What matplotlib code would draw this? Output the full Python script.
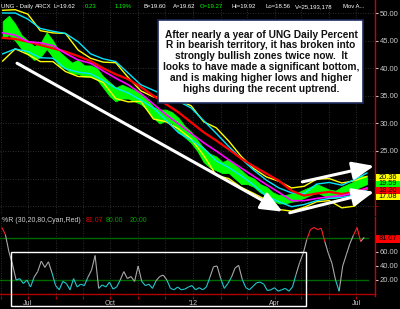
import matplotlib
matplotlib.use('Agg')
import matplotlib.pyplot as plt
import matplotlib.dates as mdates
from matplotlib.collections import LineCollection
from matplotlib.patches import Rectangle
from matplotlib.ticker import FormatStrFormatter, FuncFormatter
import numpy as np
import pandas as pd

plt.rcParams['font.family'] = ['Liberation Sans', 'DejaVu Sans']

# ---------------- data ----------------
week_start = '2011-06-03'          # weekly samples of price range
price_low = [45.5, 46, 45, 43.5, 42.5, 41.5, 42, 43.5, 42, 40.5, 40, 39, 39, 38.5, 38.5,
             38, 36.5, 35, 34, 34.5, 34.5, 34, 33.5, 32.5, 31, 30, 30.5, 30, 28.5, 27.5,
             26.5, 25, 23, 22, 21.5, 21, 21, 20, 19, 19, 18.5, 17.5, 17, 16, 15.5, 15.5,
             15.8, 16, 16.5, 17, 17.5, 17, 16.5, 16.5, 17, 17.5, 18, 18.5, 19]
price_high = [48.5, 49.5, 48, 46, 45, 44, 44.5, 46.5, 45, 43, 42, 41, 41.5, 40.5, 40.5,
              40, 38.5, 37.5, 36.5, 37, 36.5, 36, 35.5, 34.5, 33, 32.5, 32.5, 32, 31, 29.5,
              28.5, 27, 25.5, 24.5, 24, 23, 23.5, 22.5, 21.5, 20.5, 20, 19, 18.5, 17.5, 17,
              17, 17.3, 17.5, 18, 18.5, 19, 18.5, 18, 17.8, 18.5, 19, 19.5, 20.5, 20.3]

# bi-weekly samples of the overlays
yellow_upper = [50.5, 50.6, 49.8, 46.8, 46.4, 46.3, 43.3, 41.8, 41.1, 41.0, 38.3, 35.9, 34.8,
                34.8, 34.2, 33.2, 30.3, 29.2, 26.8, 24.0, 21.8, 20.3, 19.5, 18.3, 18.6, 19.9,
                20.0, 19.2, 19.6, 20.4]
yellow_lower = [41.3, 43.5, 42.5, 41.2, 41.2, 39.4, 38.5, 38.4, 37.4, 34.5, 33.9, 34.0, 30.8,
                30.3, 29.0, 27.2, 24.2, 20.6, 20.0, 18.4, 17.3, 16.1, 14.4, 14.1, 14.8, 15.8,
                16.0, 14.7, 15.0, 17.1]
cyan_upper = [50.0, 50.0, 48.9, 47.2, 46.7, 46.3, 44.8, 42.6, 41.7, 41.2, 39.1, 37.0, 36.0,
              35.0, 34.0, 32.8, 30.5, 28.2, 25.8, 23.6, 21.5, 19.7, 18.3, 17.4, 17.3, 19.0,
              19.3, 18.8, 19.8, 21.0]
cyan_lower = [42.6, 43.5, 43.0, 41.9, 41.8, 39.9, 39.3, 39.0, 37.8, 36.4, 35.5, 34.2, 32.8,
              30.6, 28.3, 27.0, 25.5, 23.2, 22.0, 20.5, 18.8, 16.8, 15.8, 14.9, 15.3, 16.0,
              16.4, 16.6, 17.0, 18.0]
magenta_ma = [46.4, 46.0, 44.8, 44.6, 44.1, 42.7, 41.5, 40.9, 39.5, 38.2, 37.0, 35.4, 33.5,
              31.6, 29.9, 28.2, 26.5, 25.0, 23.4, 21.9, 20.4, 18.9, 17.5, 16.0, 16.0, 16.4,
              16.7, 16.9, 17.4, 18.3]
red_ma = [45.5, 45.3, 44.8, 44.2, 43.6, 43.0, 42.2, 41.3, 40.0, 38.9, 38.0, 36.6, 35.0,
          33.5, 32.0, 30.2, 28.4, 26.9, 25.3, 23.6, 22.2, 20.9, 19.6, 17.8, 16.9, 17.3,
          17.6, 17.2, 17.6, 18.2]

pctr_start = '2011-06-02'          # %R sampled every 4 days
pct_r = [95, 85, 60, 42, 20, 22, 15, 20, 10, 24,
         32, 47, 38, 46, 30, 12, 6, 18, 15, 6,
         22, 10, 14, 12, 24, 34, 55, 8, 13, 10,
         17, 7, 10, 20, 32, 22, 25, 18, 40, 18,
         12, 14, 8, 19, 25, 27, 20, 8, 6, 10,
         6, 7, 10, 12, 6, 9, 6, 10, 24, 39,
         40, 22, 8, 15, 24, 37, 41, 21, 9, 6,
         11, 16, 17, 14, 5, 6, 9, 4, 6, 8,
         4, 10, 28, 45, 58, 78, 92, 95, 92, 94,
         75, 58, 44, 20, 4, 40, 56, 72, 84, 95,
         75, 81]

price_ticks = [25, 30, 35, 40, 45, 50]
pctr_ticks = [20, 40, 60]
last_values = [(20.36, '#ffff00'), (19.59, '#00ff00'), (18.20, '#ff0000'), (17.08, '#ffff00')]
pctr_last = 81.07

header = [("UNG - Daily", 'white'), ("ARCX", 'white'), ("L=19.62", 'white'),
          ("0.23", '#00ff00'), ("1.19%", '#00ff00'), ("B=19.60", 'white'),
          ("A=19.62", 'white'), ("O=19.27", '#00ff00'), ("Hi=19.92", 'white'),
          ("Lo=18.56", 'white'), ("V=25,193,178", 'white'), ("Mov A...", 'white')]
note = ("After nearly a year of UNG Daily Percent\n"
        "R in bearish territory, it has broken into\n"
        "strongly bullish zones twice now.  It\n"
        "looks to have made a significant bottom,\n"
        "and is making higher lows and higher\n"
        "highs during the recent uptrend.")

# arrows drawn on the chart: (start date, start price, end date, end price)
arrows = [('2011-06-19', 40.9, '2012-04-10', 14.0),
          ('2012-05-02', 19.4, '2012-07-21', 22.3),
          ('2012-04-18', 13.8, '2012-07-21', 17.6)]

# ---------------- layout ----------------
W, H = 400, 309
fig = plt.figure(figsize=(4, 3.09), dpi=100, facecolor='black')
ax = fig.add_axes([0, 1 - 215 / H, 375 / W, 215 / H], facecolor='black')
ax2 = fig.add_axes([0, 1 - 296 / H, 375 / W, 79 / H], facecolor='black')

weekly = pd.date_range(week_start, periods=len(price_low), freq='7D')
band_dates = weekly[::2]
rdates = pd.date_range(pctr_start, periods=len(pct_r), freq='4D')
x0 = pd.Timestamp('2011-05-31')
x1 = x0 + pd.Timedelta(days=418)

for a in (ax, ax2):
    a.set_xlim(x0, x1)
    for s in ('left', 'top', 'bottom'):
        a.spines[s].set_visible(False)
    a.spines['right'].set_color('#d00000')
    a.spines['right'].set_linewidth(1.0)
    a.xaxis.set_major_locator(mdates.MonthLocator())
    a.grid(True, axis='x', color='#3c3c3c', ls=(0, (1, 2)), lw=0.6)

# upper panel
ax.set_ylim(13.4, 52.36)
ax.set_yticks(price_ticks)
ax.set_yticks([15, 20], minor=True)
ax.yaxis.set_major_formatter(FormatStrFormatter('%.2f'))
ax.yaxis.tick_right()
ax.tick_params(axis='y', which='major', colors='#c8c8c8', labelsize=5.5, length=2.5, pad=1)
ax.tick_params(axis='y', which='minor', colors='#c00000', length=2.5)
ax.tick_params(axis='x', length=0, labelbottom=False)
ax.grid(True, axis='y', which='both', color='#3c3c3c', ls=(0, (1, 2)), lw=0.6)

ax.fill_between(weekly, price_low, price_high, color='#00ff00', lw=0.6, zorder=2)
ax.plot(band_dates, yellow_upper, color='#ffff00', lw=1.0, zorder=3)
ax.plot(band_dates, yellow_lower, color='#ffff00', lw=1.0, zorder=3)
ax.plot(band_dates, cyan_upper, color='#00e5ff', lw=1.0, zorder=3)
ax.plot(band_dates, cyan_lower, color='#00e5ff', lw=1.0, zorder=3)
ax.plot(band_dates, red_ma, color='#ff0000', lw=1.6, zorder=4)
ax.plot(band_dates, magenta_ma, color='#ff00ff', lw=1.2, zorder=5)

for sd, sp, ed, ep in arrows:
    ax.annotate('', xy=(pd.Timestamp(ed), ep), xytext=(pd.Timestamp(sd), sp),
                arrowprops=dict(arrowstyle='-|>,head_length=1.2,head_width=0.5',
                                color='white', lw=2.2, mutation_scale=11,
                                shrinkA=0, shrinkB=0), zorder=6)

# header line
hx = [1, 35, 54, 85, 115, 143, 173, 200, 232, 265, 295, 343]
for (txt, col), px in zip(header, hx):
    fig.text(px / W, 1 - 6.5 / H, txt, color=col, fontsize=4.3, va='center', ha='left')

# text box
fig.patches.append(Rectangle((158 / W, 1 - 103 / H), 205 / W, 83 / H, transform=fig.transFigure,
                             facecolor='white', edgecolor='#1c2b5c', lw=1.2, zorder=10))
fig.text(261 / W, 1 - 61.5 / H, note, fontsize=7.3, fontweight='bold', color='#111111',
         ha='center', va='center', linespacing=1.1, zorder=11)

# last value boxes (stacked)
box_tops = [174, 180.5, 187, 193.5]
for (val, col), top in zip(last_values, box_tops):
    fig.patches.append(Rectangle((376 / W, 1 - (top + 6.5) / H), 24 / W, 6.5 / H,
                                 transform=fig.transFigure, facecolor=col, edgecolor='none'))
    fig.text(388 / W, 1 - (top + 3.4) / H, f'{val:.2f}', fontsize=5.3, color='black',
             ha='center', va='center')

# lower panel
ax2.set_ylim(-2.86, 110)
ax2.set_yticks(pctr_ticks)
ax2.yaxis.set_major_formatter(FormatStrFormatter('%.2f'))
ax2.yaxis.tick_right()
ax2.tick_params(axis='y', colors='#c8c8c8', labelsize=5.5, length=2.5, pad=1)
ax2.axhline(80, xmax=0.98, color='#006a00', lw=1.0)
ax2.axhline(20, xmax=0.98, color='#006a00', lw=1.0)
ax2.axhline(0, color='#b00000', lw=1.0)

def month_label(v, pos):
    d = mdates.num2date(v)
    if d.month == 1:
        return "'" + str(d.year)[2:]
    return {7: 'Jul', 10: 'Oct', 4: 'Apr'}.get(d.month, '')

ax2.xaxis.set_major_formatter(FuncFormatter(month_label))
ax2.tick_params(axis='x', colors='#b00000', labelcolor='#c8c8c8', labelsize=5,
                length=2, pad=0.8)

rx = mdates.date2num(rdates)
rv = np.array(pct_r, dtype=float)
pts = np.column_stack([rx, rv])
segs = np.stack([pts[:-1], pts[1:]], axis=1)
mid = (rv[:-1] + rv[1:]) / 2
cols = ['#ff2020' if m >= 80 else ('#22c8d0' if m <= 21 else '#a8a8a8') for m in mid]
ax2.add_collection(LineCollection(segs, colors=cols, linewidths=0.8, zorder=3))

# white highlight box in lower panel
bx0 = mdates.date2num(pd.Timestamp('2011-06-12'))
bx1 = mdates.date2num(pd.Timestamp('2012-05-06'))
ax2.add_patch(Rectangle((bx0, -17), bx1 - bx0, 77, fill=False, edgecolor='white', lw=1.0,
                        clip_on=False, zorder=5))

# lower title
fig.text(2 / W, 1 - 221 / H, '%R (30,20,80,Cyan,Red)', color='#d0d0d0', fontsize=5, va='center')
fig.text(86 / W, 1 - 221 / H, f'{pctr_last:.2f}', color='#e00000', fontsize=5, va='center')
fig.text(106 / W, 1 - 221 / H, '80.00', color='#00a000', fontsize=5, va='center')
fig.text(130 / W, 1 - 221 / H, '20.00', color='#00a000', fontsize=5, va='center')

fig.patches.append(Rectangle((376 / W, 1 - 243 / H), 24 / W, 8 / H, transform=fig.transFigure,
                             facecolor='#ff0000', edgecolor='none'))
fig.text(388 / W, 1 - 239 / H, f'{pctr_last:.2f}', fontsize=5.3, color='black',
         ha='center', va='center')

fig.savefig('out.png', dpi=100, facecolor='black')
